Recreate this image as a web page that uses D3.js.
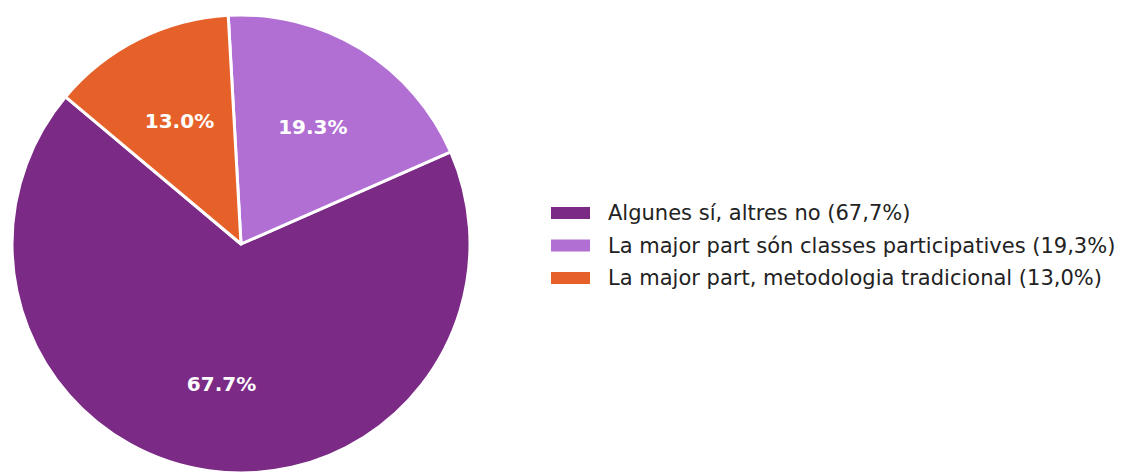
<!DOCTYPE html>
<html>
<head>
<meta charset="utf-8">
<script src="https://cdn.jsdelivr.net/npm/d3@7"></script>
<style>
  html, body { margin: 0; padding: 0; background: #fff; }
  svg { display: block; }
</style>
</head>
<body>
<svg id="chart" width="1122" height="472"></svg>
<script>
const categories = [
  "Algunes sí, altres no (67,7%)",
  "La major part són classes participatives (19,3%)",
  "La major part, metodologia tradicional (13,0%)"
];
const values = [67.7, 19.3, 13.0];
const pctLabels = ["67.7%", "19.3%", "13.0%"];
const colors = ["#7b2a85", "#b16fd4", "#e6612a"];

const svg = d3.select("#chart");
const cx = 241, cy = 244, R = 229;
const startDeg = 140; // counterclockwise from east (matplotlib style)
const toD3 = deg => (90 - deg) * Math.PI / 180;

const pie = d3.pie().sort(null).value(d => d)
  .startAngle(toD3(startDeg))
  .endAngle(toD3(startDeg + 360));
const arcs = pie(values);
const arc = d3.arc().innerRadius(0).outerRadius(R);
const labelArc = d3.arc().innerRadius(R * 0.6).outerRadius(R * 0.6);

const g = svg.append("g").attr("transform", `translate(${cx},${cy})`);
g.selectAll("path.slice").data(arcs).join("path")
  .attr("class", "slice")
  .attr("d", arc)
  .attr("fill", (d, i) => colors[i])
  .attr("stroke", "#fff")
  .attr("stroke-width", 3)
  .attr("stroke-linejoin", "round");

g.selectAll("text.pct").data(arcs).join("text")
  .attr("class", "pct")
  .attr("transform", (d, i) => {
    const c = labelArc.centroid(d);
    return `translate(${c[0]},${c[1] + (i === 0 ? 4 : 0)})`;
  })
  .attr("text-anchor", "middle")
  .attr("dominant-baseline", "central")
  .attr("font-family", "DejaVu Sans")
  .attr("font-weight", "bold")
  .attr("font-size", 20)
  .attr("fill", "#fff")
  .text((d, i) => pctLabels[i]);

const legend = svg.append("g").attr("transform", "translate(551,213)");
const rowH = 32.5;
const items = legend.selectAll("g").data(categories).join("g")
  .attr("transform", (d, i) => `translate(0,${i * rowH})`);
items.append("rect")
  .attr("x", 0).attr("y", -6).attr("width", 39).attr("height", 12)
  .attr("fill", (d, i) => colors[i]);
items.append("text")
  .attr("x", 57).attr("y", 0)
  .attr("dominant-baseline", "central")
  .attr("font-family", "DejaVu Sans")
  .attr("font-size", 21)
  .attr("fill", "#222")
  .text(d => d);
</script>
</body>
</html>
